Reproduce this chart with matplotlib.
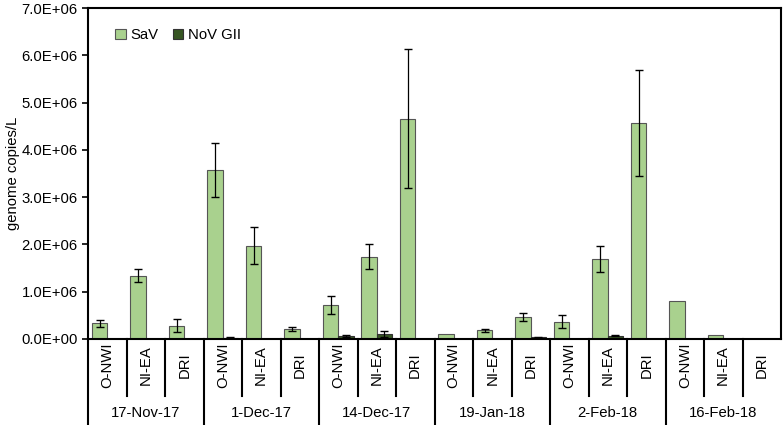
import numpy as np
import matplotlib.pyplot as plt
from matplotlib.ticker import FuncFormatter

plt.rcParams['font.family'] = ['Liberation Sans', 'DejaVu Sans']
plt.rcParams['font.size'] = 10.7

# datos
dates = ['17-Nov-17', '1-Dec-17', '14-Dec-17', '19-Jan-18', '2-Feb-18', '16-Feb-18']
sites = ['O-NWI', 'NI-EA', 'DRI']

sav = [0.33e6, 1.34e6, 0.28e6,
       3.57e6, 1.97e6, 0.21e6,
       0.72e6, 1.74e6, 4.66e6,
       0.10e6, 0.18e6, 0.46e6,
       0.37e6, 1.69e6, 4.56e6,
       0.81e6, 0.09e6, 0.0]
sav_err = [0.07e6, 0.13e6, 0.14e6,
           0.57e6, 0.39e6, 0.05e6,
           0.19e6, 0.27e6, 1.47e6,
           0.0, 0.03e6, 0.08e6,
           0.13e6, 0.28e6, 1.12e6,
           0.0, 0.0, 0.0]
nov = [0.0, 0.01e6, 0.0,
       0.03e6, 0.01e6, 0.0,
       0.06e6, 0.10e6, 0.005e6,
       0.005e6, 0.01e6, 0.04e6,
       0.01e6, 0.07e6, 0.005e6,
       0.0, 0.0, 0.0]
nov_err = [0.0, 0.0, 0.0,
           0.01e6, 0.0, 0.0,
           0.02e6, 0.06e6, 0.0,
           0.0, 0.0, 0.01e6,
           0.0, 0.01e6, 0.0,
           0.0, 0.0, 0.0]

x = np.arange(len(sav))
sav = np.array(sav)
nov = np.array(nov)
sav_err = np.array(sav_err)
nov_err = np.array(nov_err)

fig = plt.figure(figsize=(7.84, 4.25), dpi=100)
ax = fig.add_axes([88 / 784, 86 / 425, 693 / 784, 331 / 425])

ax.bar(x - 0.2, sav, width=0.4, color='#A9D18E', edgecolor='#555555', linewidth=0.8, label='SaV')
ax.bar(x + 0.2, nov, width=0.4, color='#375623', edgecolor='#333333', linewidth=0.8, label='NoV GII')
m = sav_err > 0
ax.errorbar(x[m] - 0.2, sav[m], yerr=sav_err[m], fmt='none', ecolor='black', elinewidth=0.9, capsize=3)
m = nov_err > 0
ax.errorbar(x[m] + 0.2, nov[m], yerr=nov_err[m], fmt='none', ecolor='black', elinewidth=0.9, capsize=3)

ax.set_xlim(-0.5, len(sav) - 0.5)
ax.set_ylim(0, 7e6)
ax.set_yticks(np.arange(0, 7.1e6, 1e6))
ax.yaxis.set_major_formatter(FuncFormatter(lambda v, p: f'{v:.1E}'))
ax.tick_params(axis='y', direction='out', length=4, width=1.2)
ax.set_xticks([])
ax.set_ylabel('genome copies/L', va='center')
ax.yaxis.set_label_coords(-0.108, 0.5)
for s in ax.spines.values():
    s.set_linewidth(1.5)

# eje de categorias en dos niveles
for i in range(len(sav)):
    ax.text(i, -0.079, sites[i % 3], rotation=90, ha='center', va='center',
            transform=ax.get_xaxis_transform())
    depth = -0.26 if i % 3 == 0 else -0.172
    ax.plot([i - 0.5, i - 0.5], [0, depth], color='black', lw=1.5,
            transform=ax.get_xaxis_transform(), clip_on=False)
for j, d in enumerate(dates):
    ax.text(3 * j + 1, -0.224, d, ha='center', va='center',
            transform=ax.get_xaxis_transform())

ax.legend(loc='upper left', ncol=2, frameon=False, handlelength=0.7, handleheight=0.7,
          handletextpad=0.3, columnspacing=1.0, bbox_to_anchor=(0.02, 0.98))

fig.savefig('out.png', dpi=100)
